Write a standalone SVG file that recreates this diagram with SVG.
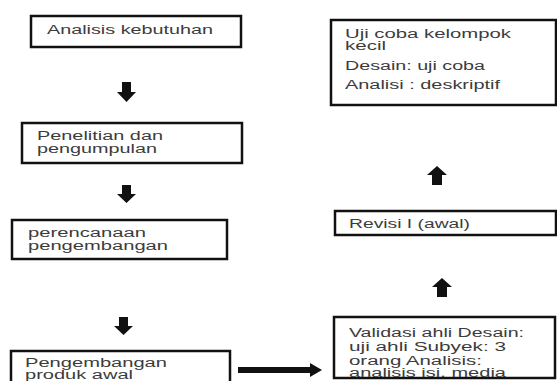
<svg xmlns="http://www.w3.org/2000/svg" width="557" height="381" viewBox="0 0 557 381">
<style>
.box{fill:#fff;stroke:#111;stroke-width:2.5}
.t{font-family:"Liberation Sans",Arial,sans-serif;font-size:12.5px;fill:#3c3c3c}
.arr{fill:#111}
</style>
<rect width="557" height="381" fill="#fff"/>
<g id="n1">
<rect class="box" x="31" y="16" width="210" height="31"/>
<text class="t" x="47" y="33.5" textLength="166" lengthAdjust="spacingAndGlyphs">Analisis kebutuhan</text>
</g>
<g id="n2">
<rect class="box" x="22" y="123" width="220" height="40"/>
<text class="t" x="37" y="139.5" textLength="126" lengthAdjust="spacingAndGlyphs">Penelitian dan</text>
<text class="t" x="37" y="153" textLength="120" lengthAdjust="spacingAndGlyphs">pengumpulan</text>
</g>
<g id="n3">
<rect class="box" x="12" y="220" width="215" height="39"/>
<text class="t" x="28" y="237" textLength="118" lengthAdjust="spacingAndGlyphs">perencanaan</text>
<text class="t" x="28" y="250" textLength="140" lengthAdjust="spacingAndGlyphs">pengembangan</text>
</g>
<g id="n4">
<rect class="box" x="11" y="351" width="219" height="40"/>
<text class="t" x="25" y="366.5" textLength="142" lengthAdjust="spacingAndGlyphs">Pengembangan</text>
<text class="t" x="25" y="379" textLength="108" lengthAdjust="spacingAndGlyphs">produk awal</text>
</g>
<g id="n5">
<rect class="box" x="334" y="317" width="221" height="61"/>
<text class="t" x="349" y="337" textLength="175" lengthAdjust="spacingAndGlyphs">Validasi ahli Desain:</text>
<text class="t" x="349" y="351" textLength="157" lengthAdjust="spacingAndGlyphs">uji ahli Subyek: 3</text>
<text class="t" x="349" y="364.5" textLength="133" lengthAdjust="spacingAndGlyphs">orang Analisis:</text>
<text class="t" x="349" y="377" textLength="157" lengthAdjust="spacingAndGlyphs">analisis isi. media</text>
</g>
<g id="n6">
<rect class="box" x="335" y="211" width="221" height="24"/>
<text class="t" x="349" y="228" textLength="121" lengthAdjust="spacingAndGlyphs">Revisi I (awal)</text>
</g>
<g id="n7">
<rect class="box" x="331" y="20" width="225" height="85"/>
<text class="t" x="345" y="37.5" textLength="166" lengthAdjust="spacingAndGlyphs">Uji coba kelompok</text>
<text class="t" x="345" y="50" textLength="41" lengthAdjust="spacingAndGlyphs">kecil</text>
<text class="t" x="345" y="69.5" textLength="140" lengthAdjust="spacingAndGlyphs">Desain: uji coba</text>
<text class="t" x="345" y="88.5" textLength="155" lengthAdjust="spacingAndGlyphs">Analisi : deskriptif</text>
</g>
<g id="connectors">
<path class="arr" d="M122,82 H131 V92 H136 L126.5,102 L117,92 H122 Z"/>
<path class="arr" d="M122,185 H131 V194 H136 L126.5,203 L117,194 H122 Z"/>
<path class="arr" d="M119,317 H128 V326 H133 L123.5,335 L114,326 H119 Z"/>
<path class="arr" d="M432,185 H442 V175 H447 L437,166 L427,175 H432 Z"/>
<path class="arr" d="M437,297 H447 V287 H452 L442,278 L432,287 H437 Z"/>
<path class="arr" d="M238,367 H310 V363 L322,370 L310,377 V373 H238 Z"/>
</g>
</svg>
